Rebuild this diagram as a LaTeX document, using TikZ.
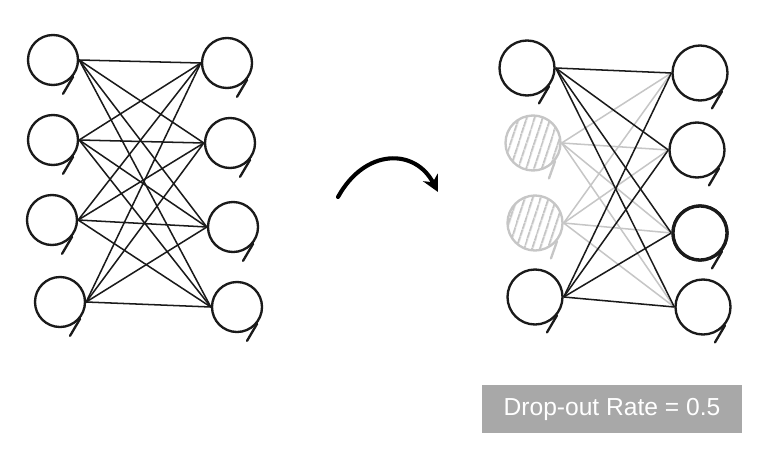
\documentclass[tikz,border=0pt]{standalone}
\usepackage{fontspec}
\setsansfont{Liberation Sans}
\usetikzlibrary{arrows.meta,patterns.meta}
\definecolor{inkk}{HTML}{1A1A1A}
\definecolor{faded}{HTML}{C6C6C6}
\definecolor{boxgray}{HTML}{A8A8A8}
\tikzset{>=Stealth,neuron/.style={circle,draw=inkk,line width=2pt,minimum size=1.5cm,inner sep=0pt},bigneuron/.style={neuron,minimum size=1.65cm},dropped/.style={bigneuron,draw=faded,pattern={Lines[angle=72,distance=6.5pt,line width=2pt]},pattern color=faded},wire/.style={inkk,line width=1.3pt},fadedwire/.style={faded,line width=1.3pt},tail/.style={line width=2pt,line cap=round}}

\begin{document}
\begin{tikzpicture}[x=0.03cm,y=-0.03cm]
\useasboundingbox (0,0) rectangle (762,454);
% full network
\foreach \n/\x/\y in {L1/53/60,L2/53/140,L3/52/220,L4/60/302,R1/227/63,R2/230/143,R3/233/227,R4/237/307}{\node[neuron] (\n) at (\x,\y) {}; \draw[tail,inkk] (\n.-40) -- ++(-10,17);}
\foreach \a in {1,...,4}{\foreach \b in {1,...,4}{\draw[wire] (L\a.east) -- (R\b.west);}}
% network after drop-out
\foreach \n/\x/\y in {D1/527/68,D4/535/297,S1/700/73,S2/697/150,S3/700/233,S4/703/307}{\node[bigneuron] (\n) at (\x,\y) {}; \draw[tail,inkk] (\n.-40) -- ++(-10,17);}
\draw[line width=2.8pt,inkk] (S3) circle (27);
\foreach \n/\x/\y in {D2/533/143,D3/535/223}{\node[dropped] (\n) at (\x,\y) {}; \draw[tail,faded] (\n.-40) -- ++(-6,17);}
\foreach \a in {2,3}{\foreach \b in {1,...,4}{\draw[fadedwire] (D\a.east) -- (S\b.west);}}
\foreach \a in {1,4}{\foreach \b in {1,...,4}{\draw[wire] (D\a.east) -- (S\b.west);}}
% arrow
\coordinate (arrS) at (338,197);
\coordinate (arrE) at (438,192);
\draw[line width=3.5pt,line cap=round,-{Stealth[length=14pt,width=14pt]}] (arrS) .. controls (365,148) and (415,148) .. (arrE);
\node[fill=boxgray,text=white,font=\sffamily\fontsize{21}{25}\selectfont,minimum width=7.8cm,minimum height=1.44cm] (rate) at (612,409) {Drop-out Rate = 0.5};
\end{tikzpicture}
\end{document}
